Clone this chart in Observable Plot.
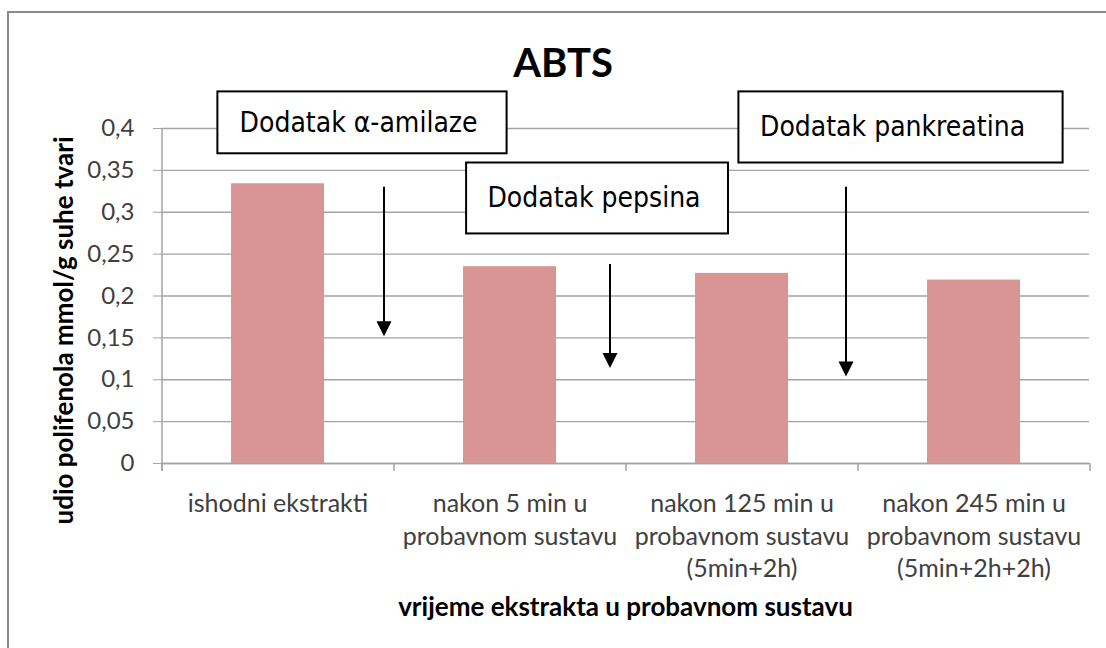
<!DOCTYPE html>
<html><head><meta charset="utf-8">
<script src="https://cdn.jsdelivr.net/npm/d3@7"></script>
<script src="https://cdn.jsdelivr.net/npm/@observablehq/plot@0.6"></script>
<style>
html,body{margin:0;padding:0;background:#fff;}
#wrap{position:relative;width:1106px;height:648px;overflow:hidden;}
#border{position:absolute;left:7px;top:11px;width:1200px;height:800px;border:2px solid #8a8a8a;pointer-events:none;z-index:2;}
#wrap svg{position:absolute;left:0;top:0;}
</style></head><body><div id="wrap"><div id="border"></div></div>
<script>
// ---- data ----
const categories = ["ishodni ekstrakti", "nakon 5 min u probavnom sustavu", "nakon 125 min u probavnom sustavu (5min+2h)", "nakon 245 min u probavnom sustavu (5min+2h+2h)"];
const xTickLabels = ["ishodni ekstrakti", "nakon 5 min u\nprobavnom sustavu", "nakon 125 min u\nprobavnom sustavu\n(5min+2h)", "nakon 245 min u\nprobavnom sustavu\n(5min+2h+2h)"];
const values = [0.334, 0.235, 0.227, 0.219];
const yTicks = [0, 0.05, 0.1, 0.15, 0.2, 0.25, 0.3, 0.35, 0.4];
const yTickLabels = ["0", "0,05", "0,1", "0,15", "0,2", "0,25", "0,3", "0,35", "0,4"];
const title = "ABTS";
const xTitle = "vrijeme ekstrakta u probavnom sustavu";
const yTitle = "udio polifenola mmol/g suhe tvari";
const noteLabels = ["Dodatak α-amilaze", "Dodatak pepsina", "Dodatak pankreatina"];
const noteCategory = [categories[0], categories[1], categories[3]];
const noteTop = [0.4437, 0.3588, 0.4437];
const noteBottom = [0.3698, 0.2741, 0.3588];
const arrowCategory = [categories[0], categories[1], categories[2]];
const arrowStart = [0.330, 0.2375, 0.330];
const arrowEnd = [0.152, 0.114, 0.104];

// ---- layout / style ----
const W = 1106, H = 648, mL = 161, mR = 17, mT = 128, mB = 185;
const plotW = W - mL - mR, plotH = H - mT - mB, step = plotW / categories.length;
const gridColor = "#a3a3a3", tickText = "#404040", barColor = "#d99594";
const noteInsetLeft = [-13.6, 3.1, -188.6], noteInsetRight = [-182.6, -172, -42.6], noteTextDx = [-38.4, -22.6, -214];
const arrowDx = [106, 100, 104];
const boxFont = "'DejaVu Sans Condensed', 'DejaVu Sans', sans-serif";

const bars = categories.map((c, i) => ({category: c, value: values[i]}));
const notes = noteLabels.map((t, i) => ({label: t, category: noteCategory[i], top: noteTop[i], bottom: noteBottom[i]}));
const arrows = arrowCategory.map((c, i) => ({category: c, start: arrowStart[i], end: arrowEnd[i]}));
const downHead = {draw(ctx) { ctx.moveTo(-7.5, -15); ctx.lineTo(7.5, -15); ctx.lineTo(0, 0); ctx.closePath(); }};

const noteMarks = notes.flatMap((n, i) => [
  Plot.barY([n], {x: "category", y1: "bottom", y2: "top", fill: "white", stroke: "black", strokeWidth: 2,
    insetLeft: noteInsetLeft[i], insetRight: noteInsetRight[i]}),
  Plot.text([n], {x: "category", y: d => (d.top + d.bottom) / 2, text: "label", textAnchor: "start", lineAnchor: "middle",
    dx: noteTextDx[i], fontSize: 28, fontFamily: boxFont, fill: "black"})
]);
const arrowMarks = arrows.flatMap((a, i) => [
  Plot.ruleX([a], {x: "category", y1: "start", y2: "end", dx: arrowDx[i], stroke: "black", strokeWidth: 2, insetBottom: 8}),
  Plot.dot([a], {x: "category", y: "end", dx: arrowDx[i], symbol: downHead, fill: "black", stroke: "none"})
]);

const chart = Plot.plot({
  width: W, height: H, marginLeft: mL, marginRight: mR, marginTop: mT, marginBottom: mB,
  style: {fontFamily: "Lato, sans-serif", background: "transparent", overflow: "visible"},
  x: {type: "band", domain: categories, paddingInner: 0.6, paddingOuter: 0.3},
  y: {domain: [0, 0.4]},
  marks: [
    Plot.gridY(yTicks, {stroke: gridColor, strokeOpacity: 1, strokeWidth: 1.3}),
    Plot.axisY({ticks: yTicks, tickFormat: d => yTickLabels[yTicks.indexOf(d)], tickSize: 8, tickPadding: 19,
      stroke: gridColor, fill: tickText, fontSize: 24, label: null}),
    Plot.axisX({tickSize: 0, tickPadding: 26, tickFormat: d => xTickLabels[categories.indexOf(d)],
      fontSize: 25, lineHeight: 1.29, fill: tickText, label: null}),
    Plot.barY(bars, {x: "category", y: "value", fill: barColor}),
    Plot.ruleY([0], {stroke: gridColor, strokeWidth: 1.5}),
    Plot.ruleX([categories[0]], {dx: -step / 2, insetBottom: -8, stroke: gridColor, strokeWidth: 1.5}),
    Plot.ruleX(categories, {dx: -step / 2, insetTop: plotH, insetBottom: -8, stroke: gridColor, strokeWidth: 1.5}),
    Plot.ruleX([categories[categories.length - 1]], {dx: step / 2, insetTop: plotH, insetBottom: -8, stroke: gridColor, strokeWidth: 1.5}),
    ...arrowMarks,
    ...noteMarks,
    Plot.text([title], {frameAnchor: "top", text: d => d, dx: 562.5 - (mL + plotW / 2), dy: -64, lineAnchor: "middle",
      fontSize: 40, fontWeight: "bold", fill: "black"}),
    Plot.text([xTitle], {frameAnchor: "bottom", text: d => d, dy: 143.7, lineAnchor: "middle",
      fontSize: 26, fontWeight: "bold", fill: "black"}),
    Plot.text([yTitle], {frameAnchor: "left", text: d => d, rotate: -90, dx: 64 - mL, dy: 330 - (mT + plotH / 2),
      textAnchor: "middle", lineAnchor: "middle", fontSize: 26, fontWeight: "bold", fill: "black"})
  ]
});
document.getElementById("wrap").appendChild(chart);
</script>
</body></html>
